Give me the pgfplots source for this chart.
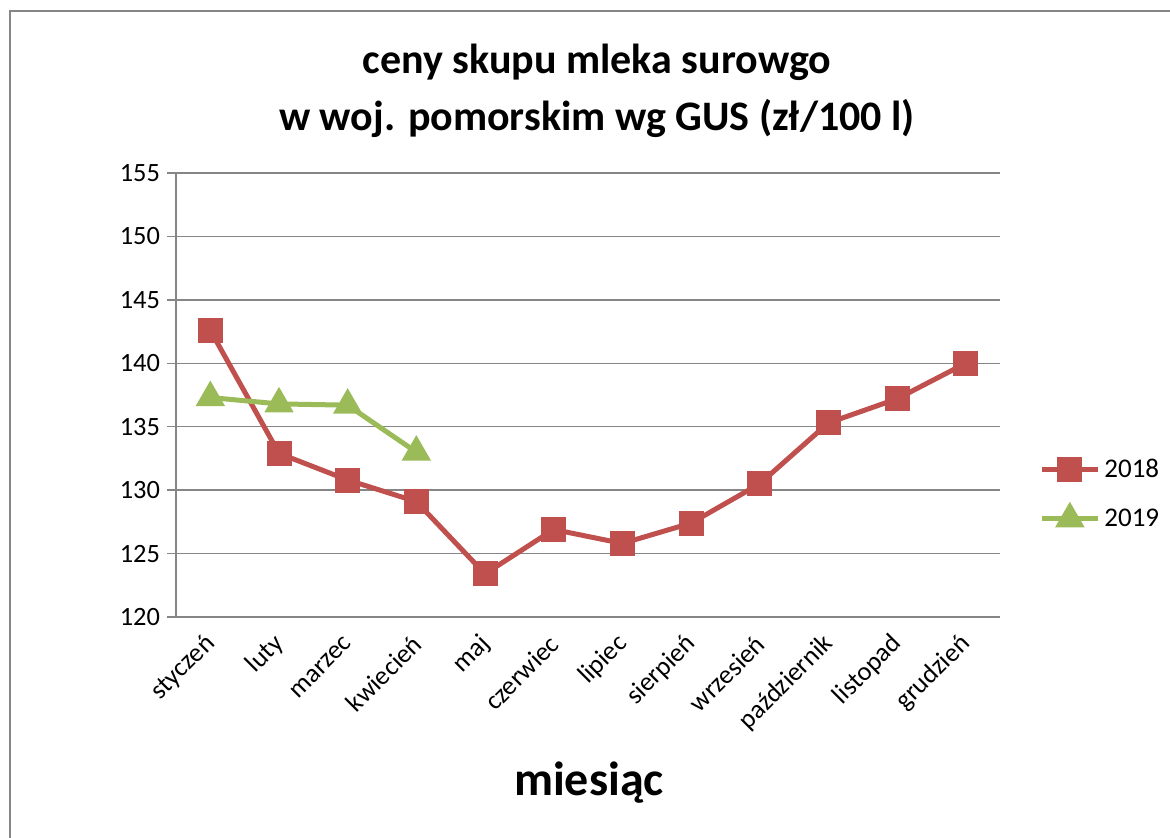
\documentclass[border=0pt]{standalone}
\usepackage{fontspec}
\setmainfont{Carlito}
\usepackage{pgfplots}
\pgfplotsset{compat=1.18}
\definecolor{c18}{HTML}{C0504D}
\definecolor{c19}{HTML}{9BBB59}
\definecolor{gridc}{HTML}{868686}
\begin{document}
\begin{tikzpicture}
\useasboundingbox (0,0) rectangle (585pt,-418.5pt);
\draw[gridc, line width=1.2pt] (5pt,-5.5pt) rectangle (640pt,-460pt);
\node[font=\fontsize{21}{25}\selectfont\bfseries] at (298.5pt,-31pt) {ceny skupu mleka surowgo};
\node[font=\fontsize{21}{25}\selectfont\bfseries] at (298.5pt,-59pt) {w woj. pomorskim wg GUS (zł/100 l)};
\node[font=\fontsize{24}{28}\selectfont\bfseries] at (294.5pt,-391.5pt) {miesiąc};
\begin{axis}[
  at={(88pt,-308.5pt)}, anchor=south west,
  scale only axis, width=412pt, height=222pt,
  xmin=-0.5, xmax=11.5, ymin=120, ymax=155,
  ytick={120,125,...,155},
  xtick={0,...,11},
  xticklabels={styczeń,luty,marzec,kwiecień,maj,czerwiec,lipiec,sierpień,wrzesień,październik,listopad,grudzień},
  minor xtick={-0.5,0.5,...,11.5},
  xtick style={draw=none},
  minor tick length=5pt,
  major tick length=4.5pt,
  tick align=outside,
  tick style={gridc, line width=0.7pt},
  axis x line*=bottom, axis y line*=left,
  axis line style={gridc, line width=0.7pt, -},
  ymajorgrids, grid style={gridc, line width=0.7pt},
  /pgf/number format/assume math mode=true,
  ticklabel style={font=\fontsize{13.2}{15}\selectfont},
  xticklabel style={rotate=45, anchor=east, xshift=-1.2pt, yshift=-5.2pt},
  legend style={draw=none, fill=none, at={(1.04,0.277)}, anchor=west,
    font=\fontsize{13.5}{15}\selectfont, row sep=10pt},
  legend cell align=left,
  legend image code/.code={\draw[mark repeat=2,mark phase=2,#1] plot coordinates {(0pt,0pt) (14pt,0pt) (28pt,0pt)};},
]
\addplot[c18, line width=2.5pt, mark=square*, mark size=5pt, mark options={solid, fill=c18}]
  coordinates {(0,142.6) (1,132.9) (2,130.8) (3,129.1) (4,123.4) (5,126.9) (6,125.8) (7,127.4) (8,130.5) (9,135.3) (10,137.2) (11,140.0)};
\addlegendentry{2018}
\addplot[c19, line width=2.5pt, mark=triangle*, mark size=6pt, mark options={solid, fill=c19}]
  coordinates {(0,137.3) (1,136.8) (2,136.7) (3,133.0)};
\addlegendentry{2019}
\end{axis}
\end{tikzpicture}
\end{document}
